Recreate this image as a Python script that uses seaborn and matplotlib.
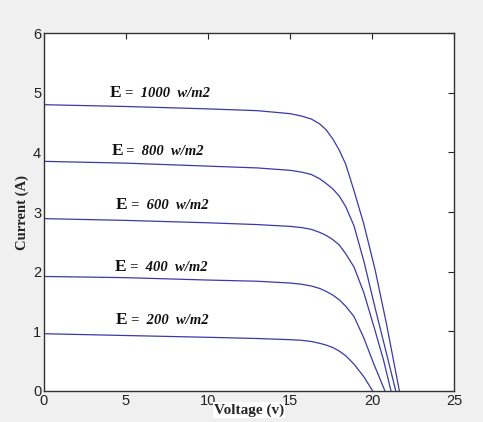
import seaborn as sns
import matplotlib.pyplot as plt
import pandas as pd

# I-V curves, one per irradiance level
irradiance = [1000, 800, 600, 400, 200]

v_1000 = [0, 5, 10, 13, 15, 15.7, 16.3, 16.8, 17.2, 17.6, 18.0, 18.4, 18.9, 19.5, 20.2, 20.9, 21.67]
i_1000 = [4.80, 4.77, 4.73, 4.70, 4.65, 4.61, 4.56, 4.48, 4.38, 4.23, 4.04, 3.80, 3.36, 2.80, 2.02, 1.10, 0]

v_800 = [0, 5, 10, 13, 15, 15.7, 16.3, 16.8, 17.2, 17.6, 18.0, 18.4, 18.9, 19.5, 20.2, 20.8, 21.45]
i_800 = [3.85, 3.82, 3.77, 3.74, 3.70, 3.67, 3.63, 3.56, 3.48, 3.39, 3.27, 3.09, 2.77, 2.18, 1.38, 0.72, 0]

v_600 = [0, 5, 10, 13, 15, 15.7, 16.3, 16.8, 17.2, 17.6, 18.0, 18.4, 18.9, 19.5, 20.2, 20.7, 21.16]
i_600 = [2.89, 2.86, 2.82, 2.79, 2.76, 2.74, 2.71, 2.66, 2.61, 2.54, 2.45, 2.30, 2.08, 1.65, 1.00, 0.52, 0]

v_400 = [0, 5, 10, 13, 15, 15.7, 16.3, 16.8, 17.2, 17.6, 18.0, 18.4, 18.9, 19.5, 20.1, 20.79]
i_400 = [1.92, 1.90, 1.86, 1.84, 1.81, 1.79, 1.76, 1.72, 1.67, 1.61, 1.53, 1.42, 1.25, 0.89, 0.46, 0]

v_200 = [0, 5, 10, 13, 15, 15.7, 16.3, 16.8, 17.2, 17.6, 18.0, 18.4, 18.9, 19.5, 20.04]
i_200 = [0.96, 0.93, 0.90, 0.88, 0.86, 0.85, 0.83, 0.80, 0.77, 0.73, 0.67, 0.59, 0.45, 0.24, 0]

# label anchor (voltage, current) for each curve
label_v = [4.0, 4.1, 4.4, 4.3, 4.4]
label_i = [5.0, 4.03, 3.12, 2.08, 1.19]

volts = [v_1000, v_800, v_600, v_400, v_200]
amps = [i_1000, i_800, i_600, i_400, i_200]

frames = []
for e, v, i in zip(irradiance, volts, amps):
    frames.append(pd.DataFrame({"voltage": v, "current": i, "E": e}))
df = pd.concat(frames, ignore_index=True)

sns.set_style("white")
plt.rcParams["font.family"] = ["Liberation Sans", "DejaVu Sans"]

fig = plt.figure(figsize=(4.83, 4.22), dpi=100, facecolor="#f0f0f0")
ax = fig.add_axes([0.091, 0.0735, 0.849, 0.848])
ax.set_facecolor("white")

line_color = "#3a3aa6"
sns.lineplot(
    data=df,
    x="voltage",
    y="current",
    hue="E",
    units="E",
    estimator=None,
    sort=False,
    palette=[line_color] * len(irradiance),
    linewidth=0.9,
    legend=False,
    ax=ax,
)

# curve labels: upright bold "E", bold italic rest
for e, x, y in zip(irradiance, label_v, label_i):
    ax.text(x, y, "E", fontsize=12.5, fontweight="bold", family="Liberation Serif",
            va="center", ha="left", color="#111111")
    ax.annotate(f"=  {e}  w/m2", xy=(x, y), xytext=(11, -0.5), textcoords="offset points",
                fontsize=10.5, fontweight="bold", fontstyle="italic",
                family="Liberation Serif", va="center", ha="left", color="#111111")

ax.set_xlim(0, 25)
ax.set_ylim(0, 6)
ax.set_xticks([0, 5, 10, 15, 20, 25])
ax.set_yticks([0, 1, 2, 3, 4, 5, 6])
ax.tick_params(direction="in", length=4, width=0.8, labelsize=10.5,
               top=True, right=True, colors="#222222", pad=2)
for s in ax.spines.values():
    s.set_color("#333333")
    s.set_linewidth(1.0)

ax.set_xlabel("Voltage (v)", fontsize=11, fontweight="bold", family="Liberation Serif",
              labelpad=-3, bbox=dict(facecolor="white", edgecolor="none", pad=1))
ax.set_ylabel("Current (A)", fontsize=10.5, fontweight="bold", family="Liberation Serif",
              labelpad=3)

fig.savefig("out.png", dpi=100, facecolor=fig.get_facecolor())
